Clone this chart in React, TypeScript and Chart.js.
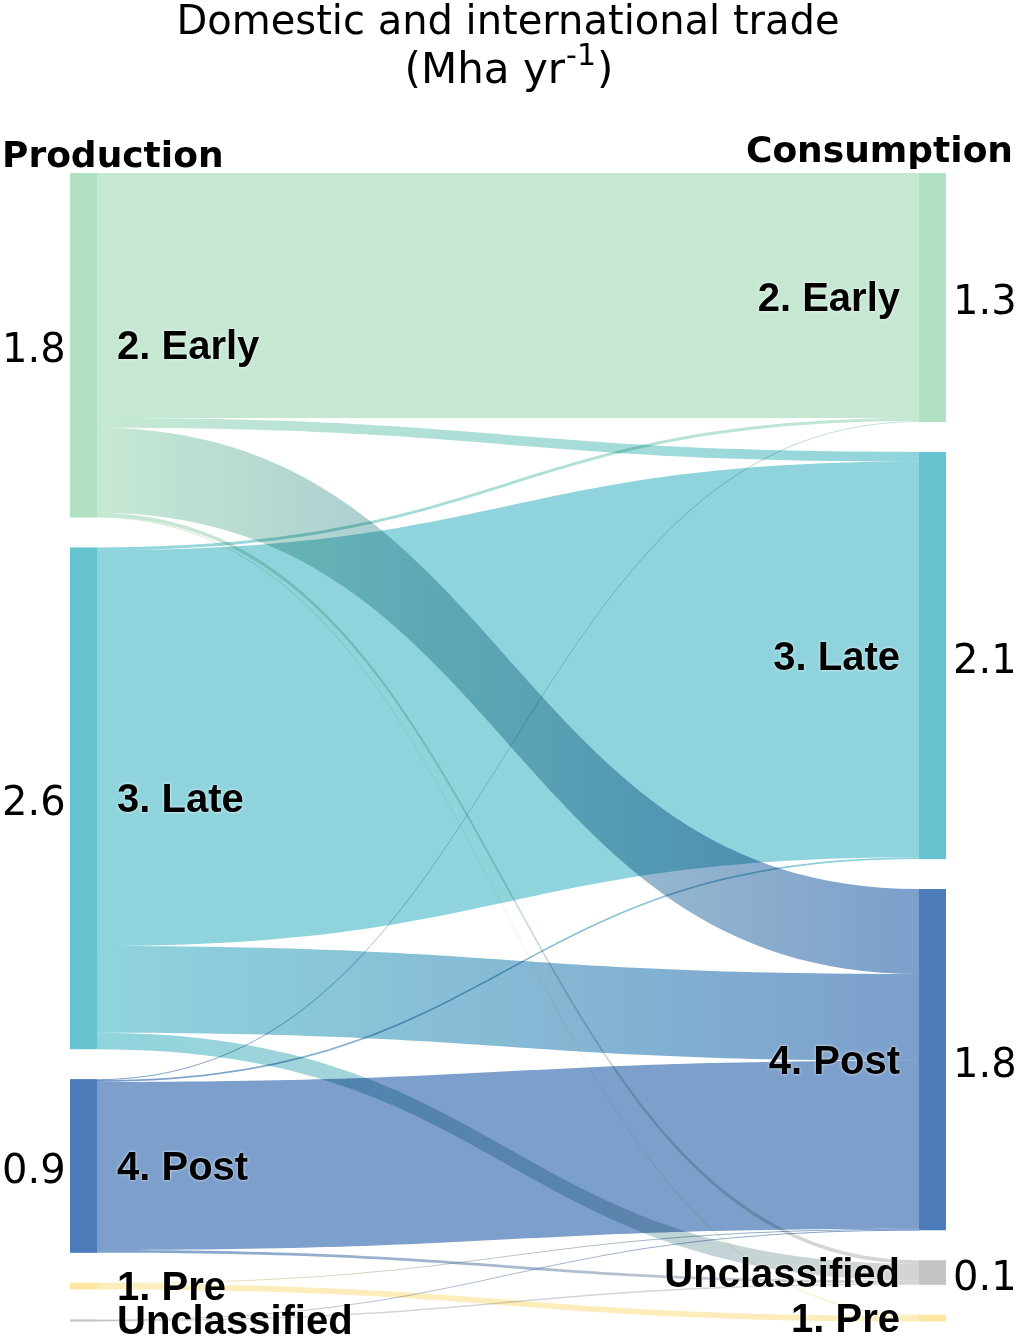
import { useEffect, useRef } from "react";
import { Chart, registerables } from "chart.js";

Chart.register(...registerables);

// ---- data ----
const productionNodes = ["2. Early", "3. Late", "4. Post", "1. Pre", "Unclassified"];
const consumptionNodes = ["2. Early", "3. Late", "4. Post", "Unclassified", "1. Pre"];
const productionLabels = ["1.8", "2.6", "0.9", "", ""];
const consumptionLabels = ["1.3", "2.1", "1.8", "0.1", ""];

const flowFrom = [
  "2. Early", "2. Early", "2. Early", "2. Early", "2. Early",
  "3. Late", "3. Late", "3. Late", "3. Late",
  "4. Post", "4. Post", "4. Post", "4. Post",
  "1. Pre", "1. Pre",
  "Unclassified", "Unclassified",
];
const flowTo = [
  "2. Early", "3. Late", "4. Post", "Unclassified", "1. Pre",
  "2. Early", "3. Late", "4. Post", "Unclassified",
  "2. Early", "3. Late", "4. Post", "Unclassified",
  "4. Post", "1. Pre",
  "4. Post", "Unclassified",
];
const flowValues = [
  1.27, 0.05, 0.44, 0.02, 0.005,
  0.015, 2.05, 0.45, 0.085,
  0.005, 0.01, 0.87, 0.015,
  0.005, 0.03,
  0.003, 0.008,
];

// ---- styles ----
const nodeRGB: Record<string, number[]> = {
  "2. Early": [177, 224, 195],
  "3. Late": [102, 196, 208],
  "4. Post": [76, 124, 185],
  "1. Pre": [252, 230, 160],
  "Unclassified": [196, 196, 196],
};
const FLOW_ALPHA = 0.73;
const NODE_GAP = 0.155;
const NODE_PX = 27;
const Y_MAX = 6.0;

const rgba = (c: number[], a: number) => `rgba(${c[0]},${c[1]},${c[2]},${a})`;
// flow colour = node colour at FLOW_ALPHA over white, then multiplied where flows overlap
const flowColor = (c: number[]) =>
  `rgb(${c.map((v) => Math.round(255 - FLOW_ALPHA * (255 - v))).join(",")})`;

const sankeyPlugin = {
  id: "sankeyDraw",
  beforeDraw(chart: any) {
    const ctx: CanvasRenderingContext2D = chart.ctx;
    ctx.save();
    ctx.fillStyle = "#ffffff";
    ctx.fillRect(0, 0, chart.width, chart.height);
    ctx.restore();
  },
  afterDatasetsDraw(chart: any) {
    const ctx: CanvasRenderingContext2D = chart.ctx;
    const xs = chart.scales.x;
    const ys = chart.scales.y;

    const outTotals = productionNodes.map((n) =>
      flowValues.reduce((s, v, k) => (flowFrom[k] === n ? s + v : s), 0)
    );
    const inTotals = consumptionNodes.map((n) =>
      flowValues.reduce((s, v, k) => (flowTo[k] === n ? s + v : s), 0)
    );
    const leftTop: number[] = [];
    let acc = 0;
    outTotals.forEach((t, i) => {
      leftTop[i] = acc;
      acc += t + NODE_GAP;
    });
    const rightTop: number[] = [];
    acc = 0;
    inTotals.forEach((t, i) => {
      rightTop[i] = acc;
      acc += t + NODE_GAP;
    });

    const sy0: number[] = [];
    const ty0: number[] = [];
    productionNodes.forEach((n, i) => {
      let cur = leftTop[i];
      flowValues
        .map((_, k) => k)
        .filter((k) => flowFrom[k] === n)
        .sort((a, b) => consumptionNodes.indexOf(flowTo[a]) - consumptionNodes.indexOf(flowTo[b]))
        .forEach((k) => {
          sy0[k] = cur;
          cur += flowValues[k];
        });
    });
    consumptionNodes.forEach((n, i) => {
      let cur = rightTop[i];
      flowValues
        .map((_, k) => k)
        .filter((k) => flowTo[k] === n)
        .sort((a, b) => productionNodes.indexOf(flowFrom[a]) - productionNodes.indexOf(flowFrom[b]))
        .forEach((k) => {
          ty0[k] = cur;
          cur += flowValues[k];
        });
    });

    const xL = xs.getPixelForValue(0);
    const xR = xs.getPixelForValue(1);
    const sx = xL + NODE_PX;
    const tx = xR - NODE_PX;
    const mx = (sx + tx) / 2;

    ctx.save();
    ctx.globalCompositeOperation = "multiply";
    const order = flowValues.map((_, k) => k).sort((a, b) => flowValues[b] - flowValues[a]);
    order.forEach((k) => {
      const v = flowValues[k];
      const a0 = ys.getPixelForValue(sy0[k]);
      let a1 = ys.getPixelForValue(sy0[k] + v);
      const b0 = ys.getPixelForValue(ty0[k]);
      let b1 = ys.getPixelForValue(ty0[k] + v);
      if (a1 - a0 < 1) a1 = a0 + 1;
      if (b1 - b0 < 1) b1 = b0 + 1;
      const g = ctx.createLinearGradient(sx, 0, tx, 0);
      g.addColorStop(0, flowColor(nodeRGB[flowFrom[k]]));
      g.addColorStop(1, flowColor(nodeRGB[flowTo[k]]));
      ctx.fillStyle = g;
      ctx.beginPath();
      ctx.moveTo(sx, a0);
      ctx.bezierCurveTo(mx, a0, mx, b0, tx, b0);
      ctx.lineTo(tx, b1);
      ctx.bezierCurveTo(mx, b1, mx, a1, sx, a1);
      ctx.closePath();
      ctx.fill();
    });
    ctx.globalCompositeOperation = "source-over";

    // nodes
    productionNodes.forEach((n, i) => {
      const t = ys.getPixelForValue(leftTop[i]);
      let b = ys.getPixelForValue(leftTop[i] + outTotals[i]);
      if (b - t < 2) b = t + 2;
      ctx.fillStyle = rgba(nodeRGB[n], 1);
      ctx.fillRect(xL, t, NODE_PX, b - t);
    });
    consumptionNodes.forEach((n, i) => {
      const t = ys.getPixelForValue(rightTop[i]);
      let b = ys.getPixelForValue(rightTop[i] + inTotals[i]);
      if (b - t < 2) b = t + 2;
      ctx.fillStyle = rgba(nodeRGB[n], 1);
      ctx.fillRect(tx, t, NODE_PX, b - t);
    });

    // node labels
    ctx.fillStyle = "#000";
    ctx.textBaseline = "alphabetic";
    ctx.font = "bold 40px 'Liberation Sans', Arial, sans-serif";
    ctx.shadowColor = "rgba(255,255,255,0.9)";
    ctx.shadowBlur = 3;
    productionNodes.forEach((n, i) => {
      const c = ys.getPixelForValue(leftTop[i] + outTotals[i] / 2);
      ctx.textAlign = "left";
      ctx.fillText(n, 117, c + 14);
    });
    consumptionNodes.forEach((n, i) => {
      const c = ys.getPixelForValue(rightTop[i] + inTotals[i] / 2);
      ctx.textAlign = "right";
      ctx.fillText(n, 900, c + 14);
    });
    ctx.shadowBlur = 0;
    ctx.shadowColor = "rgba(0,0,0,0)";

    // totals
    ctx.font = "40px 'DejaVu Sans', sans-serif";
    productionLabels.forEach((lab, i) => {
      if (!lab) return;
      const c = ys.getPixelForValue(leftTop[i] + outTotals[i] / 2);
      ctx.textAlign = "left";
      ctx.fillText(lab, 2, c + 17);
    });
    consumptionLabels.forEach((lab, i) => {
      if (!lab) return;
      const c = ys.getPixelForValue(rightTop[i] + inTotals[i] / 2);
      ctx.textAlign = "left";
      ctx.fillText(lab, 953, c + 17);
    });

    // column headers
    ctx.font = "bold 36px 'DejaVu Sans', sans-serif";
    ctx.textAlign = "left";
    ctx.fillText("Production", 2, 167);
    ctx.textAlign = "right";
    ctx.fillText("Consumption", 1013, 162);

    // title
    const cx = 508;
    ctx.font = "40px 'DejaVu Sans', sans-serif";
    ctx.textAlign = "center";
    ctx.fillText("Domestic and international trade", cx, 34);
    const p1 = "(Mha yr";
    const sup = "-1";
    const p2 = ")";
    const big = "42px 'DejaVu Sans', sans-serif";
    const small = "30px 'DejaVu Sans', sans-serif";
    ctx.font = big;
    const w1 = ctx.measureText(p1).width;
    const w3 = ctx.measureText(p2).width;
    ctx.font = small;
    const w2 = ctx.measureText(sup).width;
    const x0 = cx - (w1 + w2 + w3) / 2;
    ctx.textAlign = "left";
    ctx.font = big;
    ctx.fillText(p1, x0, 83);
    ctx.font = small;
    ctx.fillText(sup, x0 + w1 + 1, 65);
    ctx.font = big;
    ctx.fillText(p2, x0 + w1 + w2 + 2, 83);
    ctx.restore();
  },
};

export default function App() {
  const ref = useRef<HTMLCanvasElement | null>(null);
  useEffect(() => {
    if (!ref.current) return;
    const chart = new Chart(ref.current, {
      type: "scatter",
      data: { datasets: [{ data: [], pointRadius: 0 }] },
      options: {
        animation: false,
        responsive: false,
        events: [],
        layout: { padding: { left: 70, right: 74, top: 173, bottom: 9 } },
        plugins: { legend: { display: false }, tooltip: { enabled: false }, title: { display: false } },
        scales: {
          x: { type: "linear", min: 0, max: 1, display: false },
          y: { type: "linear", min: 0, max: Y_MAX, reverse: true, display: false },
        },
      },
      plugins: [sankeyPlugin],
    });
    return () => chart.destroy();
  }, []);
  return (
    <div style={{ position: "absolute", left: 0, top: 0, width: 1020, height: 1340, background: "#fff" }}>
      <canvas ref={ref} width={1020} height={1340} style={{ width: 1020, height: 1340, display: "block" }} />
    </div>
  );
}
